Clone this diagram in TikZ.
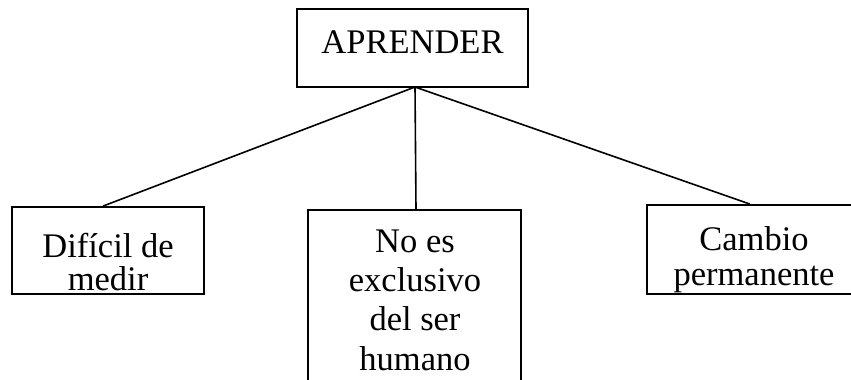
\documentclass[tikz,border=0pt]{standalone}
\usepackage{fontspec}
\setmainfont{Liberation Serif}
\begin{document}
\begin{tikzpicture}[x=1pt,y=-1pt,
  box/.style={draw=black, line width=1.8pt, rectangle, inner sep=0pt},
  lbl/.style={inner sep=0pt, align=center, anchor=base},
  conn/.style={draw=black, line width=1.6pt}]
\useasboundingbox (0,0) rectangle (851,380);
\clip (0,0) rectangle (851,380);
% boxes
\node[box, minimum width=231pt, minimum height=78pt] (top) at (412.5,48) {};
\node[box, minimum width=192pt, minimum height=87pt] (left) at (108,250.5) {};
\node[box, minimum width=213pt, minimum height=210pt] (mid) at (414.5,315) {};
\node[box, minimum width=214pt, minimum height=89pt] (right) at (754,249.5) {};
% labels (base anchor = baseline of last line)
\node[lbl, font=\fontsize{34.5}{40}\selectfont] (ttop) at (412.5,53) {APRENDER};
\node[lbl, font=\fontsize{34.5}{33}\selectfont] (tleft) at (108,290) {Difícil de\\medir};
\node[lbl, font=\fontsize{34.5}{39.3}\selectfont] (tmid) at (415,370) {No es\\exclusivo\\del ser\\humano};
\node[lbl, font=\fontsize{34.5}{35}\selectfont] (tright) at (754,285) {Cambio\\permanente};
% connectors
\coordinate (apex) at (415,87);
\draw[conn] (apex) -- ([xshift=-5pt]left.north);
\draw[conn] (apex) -- ([xshift=1.5pt]mid.north);
\draw[conn] (apex) -- ([xshift=-4pt]right.north);
\end{tikzpicture}
\end{document}
